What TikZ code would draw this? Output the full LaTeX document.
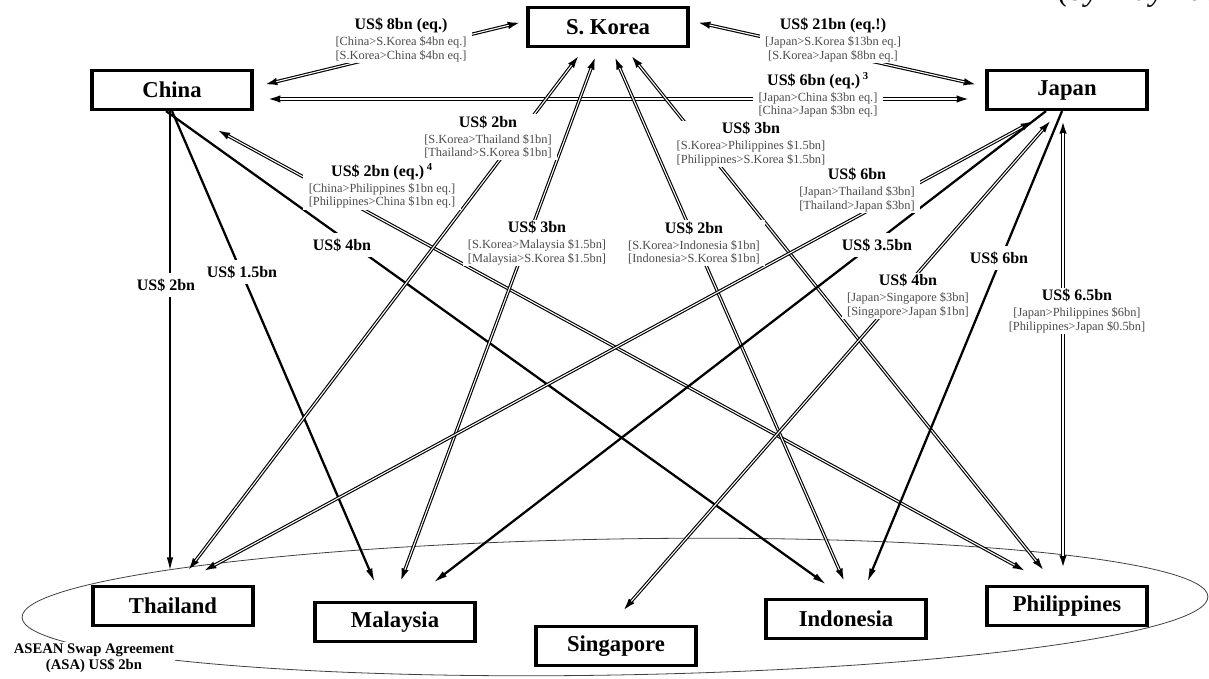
\documentclass[tikz,border=0pt]{standalone}
\usepackage{fontspec}
\setmainfont{Liberation Serif}
\usetikzlibrary{arrows.meta,calc}
\definecolor{txtgray}{gray}{0.3}
\newcommand{\hd}[1]{{\fontsize{12}{12}\selectfont\bfseries #1}}
\newcommand{\sm}[1]{{\color{txtgray}#1}}
\newcommand{\dbl}[2]{\draw[dblout] #1 -- #2; \draw[dblin] #1 -- #2;}
\begin{document}
\begin{tikzpicture}[x=0.75pt,y=-0.75pt,
  box/.style={draw,line width=2.6pt,minimum width=120pt,minimum height=29pt,inner sep=0pt,
              font=\fontsize{17}{17}\selectfont\bfseries},
  one/.style={line width=1.7pt,-{Latex[length=11pt,width=5pt]}},
  dblout/.style={line width=2.5pt,{Latex[length=11pt,width=5.5pt]}-{Latex[length=11pt,width=5.5pt]}},
  dblin/.style={white,line width=0.8pt,shorten <=10.5pt,shorten >=10.5pt},
  lab/.style={fill=white,inner xsep=4pt,inner ysep=1pt,align=center,font=\fontsize{9.3}{10}\selectfont},
  single/.style={fill=white,inner xsep=2pt,inner ysep=4pt,font=\fontsize{12}{12}\selectfont\bfseries}]
\useasboundingbox (0,0) rectangle (1209,678);

% ASEAN ellipse
\draw[black!75,line width=0.6pt,rotate around={1:(615,607)}] (615,607) ellipse [x radius=593,y radius=68];

% nodes
\node[box] (SK) at (608,27) {S. Korea};
\node[box] (CN) at (172,90) {China};
\node[box] (JP) at (1067,90) {Japan};
\node[box] (TH) at (173,606) {Thailand};
\node[box] (MY) at (395,622) {Malaysia};
\node[box] (SG) at (616,646) {Singapore};
\node[box] (ID) at (846,619) {Indonesia};
\node[box] (PH) at (1067,606) {Philippines};

% connectors from China
\dbl{($(CN.east)+(9,-5)$)}{($(SK.west)+(-4,-5)$)}
\dbl{($(CN.east)+(12,9)$)}{($(JP.west)+(-14,9)$)}
\draw[one] ($(CN.south)+(-2,0)$) -- ($(TH.north)+(-3,-13)$);
\draw[one] (CN.south) -- ($(MY.north)+(-20,-18)$);
\draw[one] ($(CN.south)+(-6,0)$) -- ($(ID.north)+(-19,-13)$);
\dbl{($(CN.south east)+(-38,18)$)}{($(PH.north)+(-40,-13)$)}
% connectors from S. Korea
\dbl{($(SK.east)+(6,-5)$)}{($(JP.west)+(-7,-5)$)}
\dbl{($(SK.south)+(-28,6)$)}{($(TH.north)+(14,-13)$)}
\dbl{($(SK.south)+(-12,7)$)}{($(MY.north)+(5,-18)$)}
\dbl{($(SK.south)+(6,7)$)}{($(ID.north)+(-1,-15)$)}
\dbl{($(SK.south)+(22,6)$)}{($(PH.north)+(-22,-13)$)}
% connectors from Japan
\dbl{($(JP.south)+(-32,9)$)}{($(TH.north)+(29,-13)$)}
\draw[one] ($(JP.south)+(-21,0)$) -- ($(MY.north)+(38,-18)$);
\dbl{($(JP.south)+(-15,8)$)}{($(SG.north)+(6,-13)$)}
\draw[one] ($(JP.south)+(-5,0)$) -- ($(ID.north)+(21,-15)$);
\dbl{($(JP.south)+(-4,8)$)}{($(PH.north)+(-4,-15)$)}

% labels
\node[lab] (l1) at (401,40) {\hd{US\$ 8bn (eq.)}\\[2pt]\sm{[China>S.Korea \$4bn eq.]}\\\sm{[S.Korea>China \$4bn eq.]}};
\node[lab] (l2) at (833,40) {\hd{US\$ 21bn (eq.!)}\\[2pt]\sm{[Japan>S.Korea \$13bn eq.]}\\\sm{[S.Korea>Japan \$8bn eq.]}};
\node[lab] (l3) at (818,95) {\hd{US\$ 6bn (eq.)\,\textsuperscript{3}}\\[2pt]\sm{[Japan>China \$3bn eq.]}\\\sm{[China>Japan \$3bn eq.]}};
\node[lab] (l4) at (488,137) {\hd{US\$ 2bn}\\[2pt]\sm{[S.Korea>Thailand \$1bn]}\\\sm{[Thailand>S.Korea \$1bn]}};
\node[lab] (l5) at (382,186) {\hd{US\$ 2bn (eq.)\,\textsuperscript{4}}\\[2pt]\sm{[China>Philippines \$1bn eq.]}\\\sm{[Philippines>China \$1bn eq.]}};
\node[lab] (l6) at (537,243) {\hd{US\$ 3bn}\\[2pt]\sm{[S.Korea>Malaysia \$1.5bn]}\\\sm{[Malaysia>S.Korea \$1.5bn]}};
\node[lab] (l7) at (694,243) {\hd{US\$ 2bn}\\[2pt]\sm{[S.Korea>Indonesia \$1bn]}\\\sm{[Indonesia>S.Korea \$1bn]}};
\node[lab] (l8) at (751,144) {\hd{US\$ 3bn}\\[2pt]\sm{[S.Korea>Philippines \$1.5bn]}\\\sm{[Philippines>S.Korea \$1.5bn]}};
\node[lab] (l9) at (857,190) {\hd{US\$ 6bn}\\[2pt]\sm{[Japan>Thailand \$3bn]}\\\sm{[Thailand>Japan \$3bn]}};
\node[lab] (l10) at (908,296) {\hd{US\$ 4bn}\\[2pt]\sm{[Japan>Singapore \$3bn]}\\\sm{[Singapore>Japan \$1bn]}};
\node[lab] (l11) at (1077,311) {\hd{US\$ 6.5bn}\\[2pt]\sm{[Japan>Philippines \$6bn]}\\\sm{[Philippines>Japan \$0.5bn]}};
\node[single] (s1) at (166,285) {US\$ 2bn};
\node[single] (s2) at (242,272) {US\$ 1.5bn};
\node[single] (s3) at (342,245) {US\$ 4bn};
\node[single] (s4) at (877,245) {US\$ 3.5bn};
\node[single] (s5) at (999,258) {US\$ 6bn};

\node[fill=white,inner sep=1pt,align=center,font=\fontsize{11}{12}\selectfont\bfseries] (asa) at (94,658)
  {ASEAN Swap Agreement\\(ASA) US\$ 2bn};
\node[anchor=base west,inner sep=0pt,font=\fontsize{24}{24}\selectfont\itshape] (date) at (1058,1) {(by May 2007)};
\end{tikzpicture}
\end{document}
